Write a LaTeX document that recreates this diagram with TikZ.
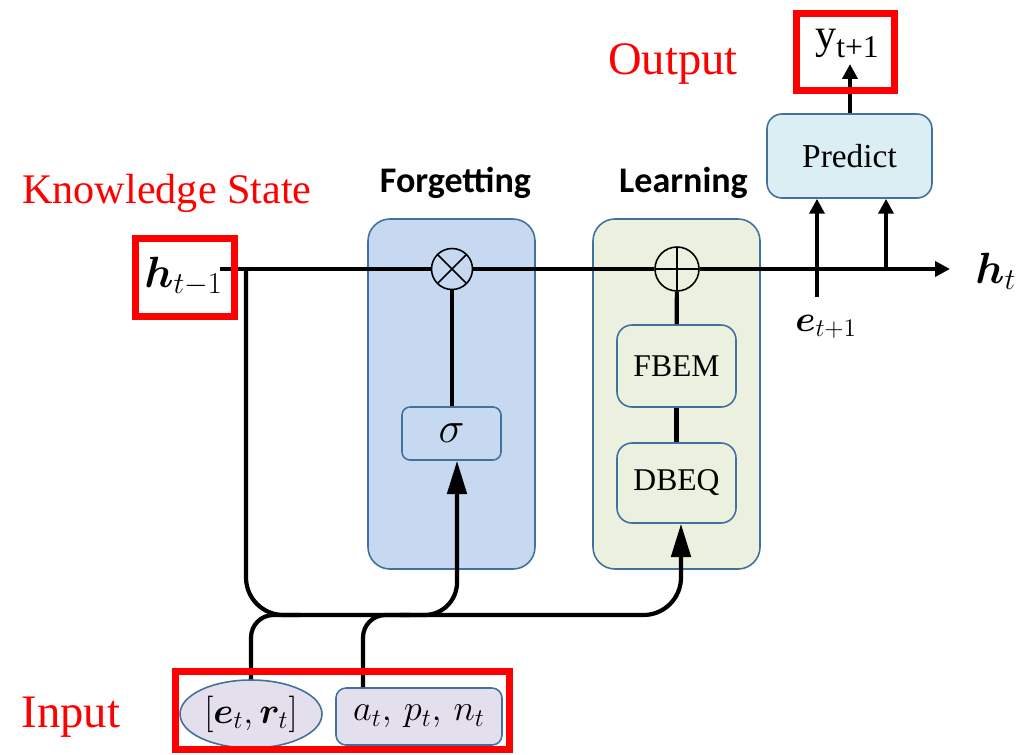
\documentclass[tikz,border=0pt]{standalone}
\usepackage{amsmath,bm}
\usepackage{fontspec}
\newfontfamily\timesrm{Liberation Serif}
\newfontfamily\calibri{Carlito}
\usetikzlibrary{arrows.meta,shapes.geometric}

\definecolor{bord}{HTML}{41719C}
\definecolor{fgfill}{HTML}{C6D9F0}
\definecolor{lnfill}{HTML}{EBF1DE}
\definecolor{prfill}{HTML}{DBEEF4}
\definecolor{infill}{HTML}{E4DFEC}
\definecolor{hilite}{HTML}{FF0000}

\begin{document}
\begin{tikzpicture}[x=0.2mm,y=-0.2mm,
  panel/.style={draw=bord,line width=0.9pt,rounded corners=4.4mm,inner sep=0pt},
  unit/.style={draw=bord,line width=0.9pt,inner sep=0pt},
  wire/.style={line width=2.4pt,black},
  bigtip/.style={-{Triangle[length=19pt,width=11pt]}},
  smalltip/.style={-{Triangle[length=8.5pt,width=8.5pt]}},
  opnode/.style={circle,draw=black,line width=0.9pt,inner sep=0pt},
  redframe/.style={draw=hilite,line width=4pt,inner sep=0pt},
  redtxt/.style={text=hilite,inner sep=0pt,anchor=base},
  gatetitle/.style={font=\calibri\bfseries\fontsize{20.5}{24}\selectfont,inner sep=0pt,anchor=base},
  vec/.style={inner sep=0pt,anchor=base west}]
\useasboundingbox (0,0) rectangle (1017,754);

% gate panels
\node[panel,fill=fgfill,minimum width=33.4mm,minimum height=70mm] (forget) at (451.5,394) {};
\node[panel,fill=lnfill,minimum width=33.4mm,minimum height=70mm] (learn) at (676.5,394) {};
\node[gatetitle] (forgetT) at (455.5,192) {Forgetting};
\node[gatetitle] (learnT) at (683.5,192) {Learning};

% inner units
\node[unit,fill=fgfill,rounded corners=1.6mm,minimum width=19.8mm,minimum height=10.6mm,
      font=\fontsize{24}{28}\selectfont] (sig) at (451.5,433.5) {$\sigma$};
\node[unit,fill=lnfill,rounded corners=3mm,minimum width=23.8mm,minimum height=16.4mm,
      font=\timesrm\fontsize{18}{22}\selectfont] (fbem) at (676.5,366) {FBEM};
\node[unit,fill=lnfill,rounded corners=3mm,minimum width=23.8mm,minimum height=16mm,
      font=\timesrm\fontsize{18}{22}\selectfont] (dbeq) at (676.5,483) {DBEQ};
\node[unit,fill=prfill,rounded corners=3mm,minimum width=33mm,minimum height=16.8mm,
      font=\timesrm\fontsize{19}{22}\selectfont] (pred) at (849.5,156) {Predict};

% inputs
\node[unit,ellipse,fill=infill,minimum width=28.4mm,minimum height=13.6mm,
      font=\fontsize{22}{26}\selectfont] (ell) at (251,714) {$[\bm{e}_t,\bm{r}_t]$};
\node[unit,fill=infill,rounded corners=2mm,minimum width=33.2mm,minimum height=11.4mm,
      font=\fontsize{22}{26}\selectfont] (aw) at (419,716.5) {$a_t,\,p_t,\,n_t$};

% state labels
\node[vec,font=\fontsize{24}{28}\selectfont] (hprev) at (144,287) {$\bm{h}_{t-1}$};
\node[vec,font=\fontsize{24}{28}\selectfont] (hnow) at (975,283) {$\bm{h}_{t}$};
\node[vec,font=\fontsize{21}{25}\selectfont] (enext) at (795,331) {$\bm{e}_{t+1}$};
\node[inner sep=0pt,anchor=base,font=\timesrm\fontsize{24}{28}\selectfont] (ynext) at (847,48)
     {y\raisebox{-0.22em}{\fontsize{18}{20}\selectfont t+1}};

% wire end points
\coordinate (hs) at (220,269);
\coordinate (j1) at (246,269);
\coordinate (j2) at (886,269);
\coordinate (htip) at (950,269);
\coordinate (e1) at (817,297);
\coordinate (ytip) at (850,64);
\coordinate (bus) at (681,615);
\coordinate (sb) at (400,615);
\coordinate (b1) at (300,615);
\coordinate (b2) at (410,615);

% operators
\node[opnode,fill=fgfill,minimum size=8.2mm,
      path picture={\draw[line width=0.9pt] (path picture bounding box.north west) -- (path picture bounding box.south east)
                    (path picture bounding box.north east) -- (path picture bounding box.south west);}] (mul) at (452,269) {};
\node[opnode,fill=lnfill,minimum size=8.8mm,
      path picture={\draw[line width=0.9pt] (path picture bounding box.north) -- (path picture bounding box.south)
                    (path picture bounding box.west) -- (path picture bounding box.east);}] (add) at (677,269) {};

% knowledge state line
\draw[wire,smalltip] (hs) -- (mul) -- (add) -- (htip);
\draw[wire] (sig.north -| mul) -- (mul);
\draw[wire] (add) -- (fbem);
\draw[wire] (fbem) -- (dbeq);

% bus from previous state and inputs
\draw[wire,bigtip,rounded corners=7.5mm] (j1) |- (bus) -- (dbeq.south -| bus);
\draw[wire,bigtip,rounded corners=6.5mm] (sb) -| ([xshift=1.1mm]sig.south);
\draw[wire,rounded corners=4.5mm] (ell.north) |- (b1);
\draw[wire,rounded corners=4.5mm] ([xshift=-11.2mm]aw.north) |- (b2);

% prediction
\draw[wire,smalltip] (e1) -- (e1 |- pred.south);
\draw[wire,smalltip] (j2) -- (j2 |- pred.south);
\draw[wire,smalltip] (pred.north -| ytip) -- (ytip);

% highlights
\node[redframe,minimum width=19.8mm,minimum height=15.6mm] (rbh) at (185,277.5) {};
\node[redframe,minimum width=19.6mm,minimum height=15.4mm] (rbo) at (845.5,52) {};
\node[redframe,minimum width=66.8mm,minimum height=15.6mm] (rbi) at (342.5,710.5) {};
\node[redtxt,font=\timesrm\fontsize{24}{28}\selectfont] (ksT) at (167,203) {Knowledge State};
\node[redtxt,font=\timesrm\fontsize{26.5}{30}\selectfont] (outT) at (673,74) {Output};
\node[redtxt,font=\timesrm\fontsize{26.5}{30}\selectfont] (inT) at (71,727) {Input};
\end{tikzpicture}
\end{document}
